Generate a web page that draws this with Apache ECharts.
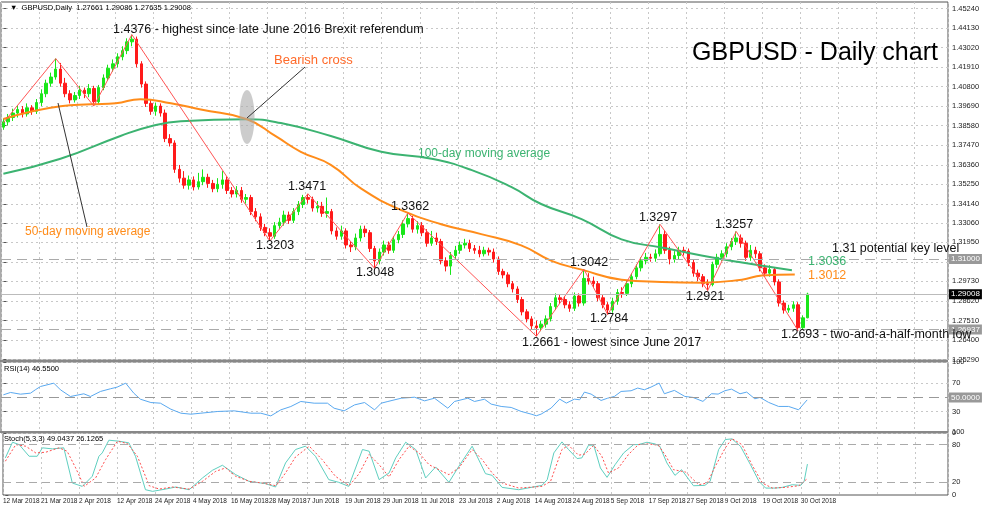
<!DOCTYPE html>
<html>
<head>
<meta charset="utf-8">
<script src="https://cdn.jsdelivr.net/npm/echarts@6/dist/echarts.min.js"></script>
<style>
  html, body { margin: 0; padding: 0; background: #fff; }
  #chart { width: 1000px; height: 507px; }
</style>
</head>
<body>
<div id="chart"></div>
<script>
// 日线K线数据 (开, 收, 低, 高)
var opens = [1.3850,1.3880,1.3905,1.3930,1.3950,1.3925,1.3960,1.3940,1.3990,1.4040,1.4100,1.4135,1.4180,1.4100,1.4040,1.4005,1.4030,1.4060,1.4040,1.4070,
  1.3995,1.4075,1.4130,1.4185,1.4210,1.4250,1.4285,1.4335,1.4350,1.4210,1.4095,1.3985,1.3940,1.3970,1.3930,1.3785,1.3760,1.3610,1.3560,1.3520,
  1.3550,1.3510,1.3540,1.3565,1.3530,1.3500,1.3525,1.3550,1.3490,1.3470,1.3490,1.3440,1.3450,1.3370,1.3340,1.3280,1.3250,1.3230,1.3290,1.3310,
  1.3350,1.3320,1.3370,1.3410,1.3450,1.3440,1.3390,1.3400,1.3360,1.3370,1.3260,1.3230,1.3260,1.3180,1.3170,1.3220,1.3270,1.3250,1.3160,1.3090,
  1.3140,1.3180,1.3150,1.3210,1.3240,1.3300,1.3330,1.3270,1.3290,1.3250,1.3190,1.3220,1.3200,1.3090,1.3060,1.3120,1.3150,1.3180,1.3190,1.3160,
  1.3150,1.3130,1.3150,1.3140,1.3100,1.3030,1.3010,1.2960,1.2930,1.2870,1.2800,1.2760,1.2720,1.2710,1.2730,1.2760,1.2830,1.2880,1.2870,1.2840,
  1.2820,1.2890,1.2850,1.2990,1.2975,1.2960,1.2880,1.2840,1.2810,1.2860,1.2910,1.2905,1.2960,1.3000,1.3050,1.3090,1.3110,1.3105,1.3130,1.3240,
  1.3150,1.3100,1.3120,1.3150,1.3145,1.3080,1.3020,1.3000,1.2960,1.2955,1.3070,1.3110,1.3130,1.3170,1.3200,1.3220,1.3190,1.3110,1.3150,1.3130,
  1.3050,1.3020,1.3040,1.2970,1.2850,1.2810,1.2820,1.2840,1.2710,1.27661];
var closes = [1.3880,1.3905,1.3930,1.3950,1.3925,1.3960,1.3940,1.3990,1.4040,1.4100,1.4135,1.4180,1.4100,1.4040,1.4005,1.4030,1.4060,1.4040,1.4070,1.3995,
  1.4075,1.4130,1.4185,1.4210,1.4250,1.4285,1.4335,1.4350,1.4210,1.4095,1.3985,1.3940,1.3970,1.3930,1.3785,1.3760,1.3610,1.3560,1.3520,1.3550,
  1.3510,1.3540,1.3565,1.3530,1.3500,1.3525,1.3550,1.3490,1.3470,1.3490,1.3440,1.3450,1.3370,1.3340,1.3280,1.3250,1.3230,1.3290,1.3310,1.3350,
  1.3320,1.3370,1.3410,1.3450,1.3440,1.3390,1.3400,1.3360,1.3370,1.3260,1.3230,1.3260,1.3180,1.3170,1.3220,1.3270,1.3250,1.3160,1.3090,1.3140,
  1.3180,1.3150,1.3210,1.3240,1.3300,1.3330,1.3270,1.3290,1.3250,1.3190,1.3220,1.3200,1.3090,1.3060,1.3120,1.3150,1.3180,1.3190,1.3160,1.3150,
  1.3130,1.3150,1.3140,1.3100,1.3030,1.3010,1.2960,1.2930,1.2870,1.2800,1.2760,1.2720,1.2710,1.2730,1.2760,1.2830,1.2880,1.2870,1.2840,1.2820,
  1.2890,1.2850,1.2990,1.2975,1.2960,1.2880,1.2840,1.2810,1.2860,1.2910,1.2905,1.2960,1.3000,1.3050,1.3090,1.3110,1.3105,1.3130,1.3240,1.3150,
  1.3100,1.3120,1.3150,1.3145,1.3080,1.3020,1.3000,1.2960,1.2955,1.3070,1.3110,1.3130,1.3170,1.3200,1.3220,1.3190,1.3110,1.3150,1.3130,1.3050,
  1.3020,1.3040,1.2970,1.2850,1.2810,1.2820,1.2840,1.2710,1.2766,1.29008];
var lows = [1.3835,1.3860,1.3885,1.3905,1.3905,1.3910,1.3920,1.3925,1.3970,1.4020,1.4080,1.4120,1.4080,1.4020,1.3985,1.3990,1.4010,1.4015,1.4020,1.3970,
  1.3980,1.4060,1.4115,1.4165,1.4190,1.4230,1.4265,1.4310,1.4190,1.4075,1.3965,1.3920,1.3915,1.3910,1.3765,1.3740,1.3590,1.3535,1.3500,1.3495,
  1.3490,1.3495,1.3520,1.3505,1.3480,1.3480,1.3500,1.3470,1.3450,1.3450,1.3420,1.3415,1.3350,1.3315,1.3260,1.3230,1.3203,1.3215,1.3270,1.3290,
  1.3300,1.3305,1.3350,1.3390,1.3415,1.3370,1.3365,1.3340,1.3335,1.3240,1.3210,1.3210,1.3160,1.3140,1.3150,1.3200,1.3225,1.3140,1.3048,1.3070,
  1.3120,1.3130,1.3135,1.3190,1.3220,1.3280,1.3250,1.3245,1.3230,1.3170,1.3175,1.3180,1.3070,1.3030,1.3010,1.3100,1.3130,1.3160,1.3140,1.3130,
  1.3110,1.3115,1.3120,1.3080,1.3010,1.2990,1.2940,1.2910,1.2850,1.2780,1.2740,1.2700,1.2661,1.2690,1.2710,1.2745,1.2810,1.2845,1.2820,1.2800,
  1.2805,1.2830,1.2835,1.2955,1.2935,1.2860,1.2820,1.2784,1.2795,1.2840,1.2880,1.2890,1.2940,1.2985,1.3030,1.3070,1.3085,1.3085,1.3115,1.3130,
  1.3070,1.3080,1.3100,1.3120,1.3060,1.3000,1.2975,1.2940,1.2921,1.2945,1.3050,1.3090,1.3110,1.3150,1.3180,1.3165,1.3090,1.3090,1.3105,1.3030,
  1.3000,1.3000,1.2950,1.2830,1.2790,1.2795,1.2800,1.2693,1.2700,1.27635];
var highs = [1.3900,1.3925,1.3955,1.3975,1.3970,1.3985,1.3975,1.4010,1.4065,1.4120,1.4160,1.4240,1.4215,1.4130,1.4060,1.4050,1.4085,1.4075,1.4095,1.4085,
  1.4090,1.4150,1.4205,1.4235,1.4270,1.4310,1.4355,1.4376,1.4365,1.4225,1.4110,1.4010,1.3990,1.3985,1.3950,1.3810,1.3775,1.3635,1.3600,1.3575,
  1.3570,1.3590,1.3610,1.3585,1.3550,1.3560,1.3600,1.3570,1.3510,1.3515,1.3510,1.3470,1.3465,1.3390,1.3360,1.3300,1.3275,1.3310,1.3335,1.3375,
  1.3370,1.3390,1.3430,1.3465,1.3471,1.3455,1.3430,1.3425,1.3450,1.3385,1.3280,1.3290,1.3275,1.3200,1.3245,1.3290,1.3290,1.3265,1.3175,1.3160,
  1.3205,1.3200,1.3230,1.3260,1.3320,1.3362,1.3345,1.3315,1.3310,1.3270,1.3260,1.3250,1.3215,1.3110,1.3140,1.3175,1.3200,1.3215,1.3210,1.3180,
  1.3175,1.3170,1.3165,1.3160,1.3115,1.3045,1.3025,1.2975,1.2945,1.2885,1.2815,1.2775,1.2750,1.2750,1.2780,1.2850,1.2905,1.2900,1.2890,1.2860,
  1.2910,1.2905,1.3042,1.3020,1.3000,1.2975,1.2895,1.2855,1.2880,1.2930,1.2940,1.2980,1.3020,1.3070,1.3110,1.3135,1.3130,1.3155,1.3297,1.3260,
  1.3170,1.3145,1.3170,1.3170,1.3160,1.3095,1.3040,1.3015,1.2985,1.3085,1.3130,1.3150,1.3190,1.3220,1.3257,1.3240,1.3205,1.3180,1.3170,1.3145,
  1.3070,1.3065,1.3055,1.2985,1.2865,1.2840,1.2860,1.2855,1.2780,1.29086];

// 横坐标标签 (每8根K线一个)
var xLabels = ['12 Mar 2018','21 Mar 2018','2 Apr 2018','12 Apr 2018','24 Apr 2018','4 May 2018','16 May 2018','28 May 2018',
  '7 Jun 2018','19 Jun 2018','29 Jun 2018','11 Jul 2018','23 Jul 2018','2 Aug 2018','14 Aug 2018','24 Aug 2018',
  '5 Sep 2018','17 Sep 2018','27 Sep 2018','9 Oct 2018','19 Oct 2018','30 Oct 2018'];
var priceTicks = [1.25290,1.26400,1.27510,1.28620,1.29730,1.30840,1.31950,1.33060,1.34140,1.35250,
  1.36360,1.37470,1.38580,1.39690,1.40800,1.41910,1.43020,1.44130,1.45240];

// 均线 (按K线序号取样)
var ma50 = [[0,1.3896],[12,1.3969],[18.3,1.3980],[23.6,1.3986],[28.8,1.4009],[35.2,1.3986],[41.5,1.3950],[51.2,1.3895],
  [57.3,1.3797],[62.5,1.3710],[68.8,1.3636],[75.2,1.3500],[83.6,1.3378],[92,1.3298],[100.4,1.3242],[108.8,1.3178],
  [115.2,1.3090],[121.5,1.3040],[129.9,1.2983],[138.3,1.2970],[146.7,1.2966],[155.2,1.2983],[159.4,1.3006],[166.3,1.3012]];
var ma100 = [[0,1.3585],[12,1.3670],[24.6,1.3800],[31,1.3855],[37.3,1.3884],[51.2,1.3895],[58.3,1.3873],[68.8,1.3800],
  [79.4,1.3710],[90,1.3670],[98.3,1.3607],[106.7,1.3510],[113,1.3413],[121.5,1.3327],[129.9,1.3212],[138.3,1.3166],
  [146.7,1.3120],[155.2,1.3080],[165.7,1.3036]];
// 之字形高低点
var zigzag = [[0,1.3875],[11,1.4240],[19,1.3970],[27,1.4376],[56,1.3203],[64,1.3471],[78,1.3048],[85,1.3362],
  [112,1.2661],[122,1.3042],[127,1.2784],[138,1.3297],[148,1.2921],[154,1.3257],[167,1.2693]];

// RSI(14)
var rsi = [[0,53.8],[1.5,57.1],[3.6,54.7],[5.7,56.1],[6.7,60.8],[7.8,65.5],[10.6,70.2],[12,60.8],[14.1,51.4],[16.9,55.2],
  [18.3,51.4],[20.4,58.5],[22.5,62.3],[23.9,64.6],[25.7,70.2],[27.4,56.1],[28.8,47.6],[31,42.9],[33,42],[35.2,33.5],
  [37.3,27.9],[39.4,26.5],[41.5,27.9],[45,30.3],[48.5,31.2],[52,27.9],[54.1,27.9],[56.2,24.1],[58.3,32.6],[60.4,37.3],
  [62.5,44.4],[65.3,42],[68.1,42],[69.5,34.9],[71.6,31.2],[73.8,39.6],[75.9,42.9],[78,32.6],[79.4,42],[80.8,44.4],
  [83.6,49],[86.4,50.4],[88.5,45.3],[90.6,49],[93.4,34.9],[94.8,44.4],[97.6,49],[99,44.4],[101.1,47.6],[102.5,40.7],
  [104.6,37.4],[106.7,36],[108.8,30.4],[110.9,26.6],[112,24.3],[113,26.6],[115.1,35.1],[116.9,47.7],[118.3,42.1],[120,47.7],
  [121.1,46.8],[122.1,57.6],[123.5,54.8],[125.6,45.8],[127,49.1],[128.4,51.5],[129.8,58.5],[131.9,59.5],[133.3,63.3],[134.7,60.9],
  [136.1,64.7],[137.8,70.3],[138.9,55.3],[141,60],[143.2,51.5],[144.9,50.1],[147,44.5],[148.8,55.3],[150.2,54.8],[151.6,59.5],
  [153,61.8],[154.8,55.3],[156.2,57.6],[157.9,48.2],[159,50.1],[160.8,43.1],[162.9,37.4],[165,37.4],[167.1,32.7],[168.9,46.6]];

// Stoch(5,3,3) 主线与信号线
var stochMain = [[0,58.9],[1.5,83.8],[2.9,80],[5,61.5],[6.7,61.5],[7.8,74.9],[9.9,73.2],[12.3,74.9],[14.1,19],[16.2,13.7],
  [18.3,29.7],[19.7,61.5],[20.4,66.8],[21.8,87],[23.9,85.4],[26,82.8],[27.4,61.5],[29.5,8.4],[31,5.8],[33.8,9.5],
  [35.9,12.7],[38.7,8.4],[41.5,27],[43.6,39.2],[45.7,47.2],[48.5,32.3],[51.3,21.7],[54.8,18],[56.9,12.7],[59,50.9],
  [61.1,72.2],[63.2,77.5],[65.3,61.5],[68.1,24.4],[70.2,20.1],[72.3,13.7],[75.2,72.2],[76.6,69.5],[78.7,24.4],[80.8,35],
  [82.2,58.9],[84.3,83.8],[86.4,72.2],[88.5,27],[90.6,44.5],[93.4,20.1],[95.5,45.6],[98.3,77.5],[101.1,33.9],[102.5,31.2],
  [104.6,12.1],[108.1,8.4],[113,15.3],[114.1,24.3],[115.5,66.8],[117.2,84.3],[118.6,72.1],[120.4,57.8],[121.4,58.9],[122.8,79],
  [123.9,79],[125.3,42.9],[126.7,28],[128.4,48.2],[130.2,66.8],[132.3,80],[133.3,80],[135.1,83.7],[136.8,81.1],[137.8,77.4],
  [139.3,50.9],[141,31.2],[142.4,40.2],[144.9,14.7],[147.3,15.3],[148.4,21.6],[150.2,72.1],[151.6,88],[153,89.1],[154.8,77.4],
  [156.9,48.2],[158.7,21.6],[160.1,11],[162.2,11],[163.6,12.1],[165.7,16.3],[167.5,15.3],[168.2,21.6],[168.9,49.04]];
var stochSignal = [[0,53.6],[2.2,80],[4.3,77.4],[6.4,66.8],[8.5,67.9],[11.3,74.9],[13,69.5],[14.8,43],[16.6,13.7],[19,27],
  [21.1,56.2],[23.6,85.4],[25.7,81.7],[27.8,61.5],[30.3,14.7],[32.4,9.4],[35.2,12.7],[38.7,9.4],[41.5,21.7],[44.3,37.6],
  [46.4,43],[48.5,29.7],[51.4,21.7],[54.1,19],[57,14.7],[59,35],[61.1,60.4],[64,77.4],[66.7,56.2],[69.5,29.7],
  [72.4,14.7],[74.5,33.9],[76.6,64.2],[78.7,48.2],[80.8,28.6],[82.9,56.2],[85,77.4],[87.1,66.8],[89.2,48.2],[91.3,40.2],
  [93.4,32.3],[95.5,43],[98.3,72.2],[100.4,56.2],[102.5,35],[104.6,19.1],[108.1,11],[113,13.7],[114.8,21.6],[117.2,72.1],
  [118.6,79],[120.7,63.1],[122.1,65.2],[123.9,79],[125.6,61.5],[127,35],[129.1,42.9],[131.2,64.2],[133.3,80],[135.4,81.1],
  [137.5,79],[138.9,64.2],[140.7,40.2],[143.2,36.5],[146,16.3],[147.8,19],[149.5,45.6],[151.6,74.7],[153,89.6],[155.1,80],
  [157.2,48.2],[159.4,19],[161.5,11],[164.3,12.1],[167.1,14.7],[168.9,26.13]];

var TOTAL_SLOTS = 199;
var FONT = 'Liberation Sans';

var categories = [];
for (var i = 0; i < TOTAL_SLOTS; i++) { categories.push(String(i)); }
var candles = [];
for (var k = 0; k < closes.length; k++) {
    candles.push([opens[k], closes[k], lows[k], highs[k]]);
}

var dotted = { show: true, lineStyle: { color: '#c8c8c8', type: [2, 3], width: 1 } };
var xRange = { min: -0.5, max: TOTAL_SLOTS - 0.5 };

function hLine(value, text, bg, fg, type, lineColor) {
    return {
        yAxis: value,
        lineStyle: { color: lineColor, type: type, width: 1 },
        label: {
            show: true, position: 'end', formatter: text, distance: 1,
            backgroundColor: bg, color: fg, fontSize: 8, fontFamily: FONT, padding: [1, 2]
        }
    };
}

function txt(x, y, s, color, size, align) {
    return {
        type: 'text', x: x, y: y, z: 100,
        style: { text: s, fill: color, font: size + 'px "' + FONT + '"', align: align || 'left', verticalAlign: 'middle' }
    };
}

var myChart = echarts.init(document.getElementById('chart'));
var option = {
    backgroundColor: '#fff',
    animation: false,
    textStyle: { fontFamily: FONT },
    grid: [
        { left: 1, right: 52, top: 2, height: 358, show: true, borderColor: '#555', borderWidth: 1 },
        { left: 1, right: 52, top: 362, height: 71, show: true, borderColor: '#555', borderWidth: 1 },
        { left: 1, right: 52, top: 432, height: 63, show: true, borderColor: '#555', borderWidth: 1 }
    ],
    xAxis: [
        { type: 'category', gridIndex: 0, data: categories, boundaryGap: true,
          axisLine: { show: false }, axisTick: { show: false }, axisLabel: { show: false },
          splitLine: { show: true, interval: 7, lineStyle: dotted.lineStyle } },
        Object.assign({ type: 'value', gridIndex: 0, show: false }, xRange),
        Object.assign({ type: 'value', gridIndex: 1, interval: 8,
          axisLine: { show: false }, axisTick: { show: false }, axisLabel: { show: false }, splitLine: dotted }, xRange),
        Object.assign({ type: 'value', gridIndex: 2, interval: 8,
          axisLine: { show: false }, axisTick: { show: false }, splitLine: dotted,
          axisLabel: {
              show: true, fontSize: 6.5, color: '#222', margin: 3, align: 'left',
              showMinLabel: true, showMaxLabel: false, hideOverlap: false,
              formatter: function (v) {
                  var idx = Math.round((v + 0.5) / 8);
                  return xLabels[idx] || '';
              }
          } }, xRange)
    ],
    yAxis: [
        { type: 'value', gridIndex: 0, position: 'right', min: 1.25262, max: 1.45615,
          axisLine: { show: false },
          axisTick: { show: true, customValues: priceTicks, length: 3, lineStyle: { color: '#555' } },
          axisLabel: { customValues: priceTicks, fontSize: 7.5, color: '#222', margin: 4,
                       formatter: function (v) { return v.toFixed(5); } },
          splitLine: dotted },
        { type: 'value', gridIndex: 1, position: 'right', min: 0, max: 100,
          axisLine: { show: false },
          axisTick: { show: true, customValues: [0, 30, 70, 100], length: 3, lineStyle: { color: '#555' } },
          axisLabel: { customValues: [0, 30, 70, 100], fontSize: 7.5, color: '#222', margin: 4 },
          splitLine: dotted },
        { type: 'value', gridIndex: 2, position: 'right', min: 0, max: 100,
          axisLine: { show: false },
          axisTick: { show: true, customValues: [0, 20, 80, 100], length: 3, lineStyle: { color: '#555' } },
          axisLabel: { customValues: [0, 20, 80, 100], fontSize: 7.5, color: '#222', margin: 4 },
          splitLine: { show: false } }
    ],
    series: [
        {
            type: 'candlestick', xAxisIndex: 0, yAxisIndex: 0, data: candles, barWidth: 3,
            itemStyle: { color: '#19e619', color0: '#ff1a1a', borderColor: '#19e619', borderColor0: '#ff1a1a', borderWidth: 1 },
            markLine: {
                symbol: 'none', silent: true,
                data: [
                    hLine(1.31, '1.31000', '#999', '#fff', [10, 6], '#aaa'),
                    hLine(1.29008, '1.29008', '#000', '#fff', 'solid', '#bbb'),
                    hLine(1.26937, '1.26937', '#999', '#fff', [10, 6], '#aaa')
                ]
            }
        },
        { type: 'line', xAxisIndex: 1, yAxisIndex: 0, data: ma100, smooth: true, symbol: 'none',
          lineStyle: { color: '#3cb371', width: 2 } },
        { type: 'line', xAxisIndex: 1, yAxisIndex: 0, data: ma50, smooth: true, symbol: 'none',
          lineStyle: { color: '#ff8c1a', width: 2 } },
        { type: 'line', xAxisIndex: 1, yAxisIndex: 0, data: zigzag, symbol: 'none',
          lineStyle: { color: '#ff5555', width: 1 } },
        { type: 'line', xAxisIndex: 2, yAxisIndex: 1, data: rsi, symbol: 'none',
          lineStyle: { color: '#5aa9f0', width: 1 },
          markLine: { symbol: 'none', silent: true, data: [
              { yAxis: 50, lineStyle: { color: '#999', type: [10, 6], width: 1 },
                label: { show: true, position: 'end', formatter: '50.0000', distance: 1, backgroundColor: '#999',
                         color: '#fff', fontSize: 8, padding: [1, 2] } }
          ] } },
        { type: 'line', xAxisIndex: 3, yAxisIndex: 2, data: stochMain, symbol: 'none',
          lineStyle: { color: '#5fcfc0', width: 1 },
          markLine: { symbol: 'none', silent: true, label: { show: false }, data: [
              { yAxis: 80, lineStyle: { color: '#aaa', type: [8, 5], width: 1 } },
              { yAxis: 20, lineStyle: { color: '#aaa', type: [8, 5], width: 1 } }
          ] } },
        { type: 'line', xAxisIndex: 3, yAxisIndex: 2, data: stochSignal, symbol: 'none',
          lineStyle: { color: '#ff4d4d', width: 1, type: [2, 2] } }
    ],
    graphic: [
        { type: 'rect', shape: { x: 0, y: 360, width: 948, height: 2 }, style: { fill: '#888' }, z: 90 },
        { type: 'rect', shape: { x: 0, y: 431, width: 948, height: 2 }, style: { fill: '#888' }, z: 90 },
        { type: 'ellipse', shape: { cx: 247, cy: 117, rx: 7.5, ry: 27 }, style: { fill: 'rgba(170,170,170,0.6)' }, z: 95 },
        { type: 'line', shape: { x1: 305, y1: 67, x2: 247, y2: 118 }, style: { stroke: '#333', lineWidth: 1 }, z: 96 },
        { type: 'line', shape: { x1: 58, y1: 103, x2: 87, y2: 227 }, style: { stroke: '#333', lineWidth: 1 }, z: 96 },
        txt(10, 8, '\u25BC  GBPUSD,Daily  1.27661 1.29086 1.27635 1.29008', '#000', 7.5),
        txt(4, 369, 'RSI(14) 46.5500', '#000', 7.5),
        txt(4, 439, 'Stoch(5,3,3) 49.0437 26.1265', '#000', 7.5),
        txt(815, 53, 'GBPUSD - Daily chart', '#000', 25, 'center'),
        txt(113, 30, '1.4376 - highest since late June 2016 Brexit referendum', '#111', 12.5),
        txt(274, 60, 'Bearish cross', '#ff6a2a', 13),
        txt(418, 154, '100-day moving average', '#3cb371', 12),
        txt(25, 232, '50-day moving average', '#ff8c1a', 12),
        txt(307, 187, '1.3471', '#111', 12.5, 'center'),
        txt(275, 246, '1.3203', '#111', 12.5, 'center'),
        txt(375, 273, '1.3048', '#111', 12.5, 'center'),
        txt(410, 207, '1.3362', '#111', 12.5, 'center'),
        txt(522, 343, '1.2661 - lowest since June 2017', '#111', 12.5),
        txt(589, 263, '1.3042', '#111', 12.5, 'center'),
        txt(609, 319, '1.2784', '#111', 12.5, 'center'),
        txt(658, 218, '1.3297', '#111', 12.5, 'center'),
        txt(705, 297, '1.2921', '#111', 12.5, 'center'),
        txt(734, 225, '1.3257', '#111', 12.5, 'center'),
        txt(781, 335, '1.2693 - two-and-a-half-month low', '#111', 12.5),
        txt(832, 249, '1.31 potential key level', '#111', 12.5),
        txt(808, 262, '1.3036', '#3cb371', 12.5),
        txt(808, 276, '1.3012', '#ff8c1a', 12.5)
    ]
};
myChart.setOption(option);
</script>
</body>
</html>
